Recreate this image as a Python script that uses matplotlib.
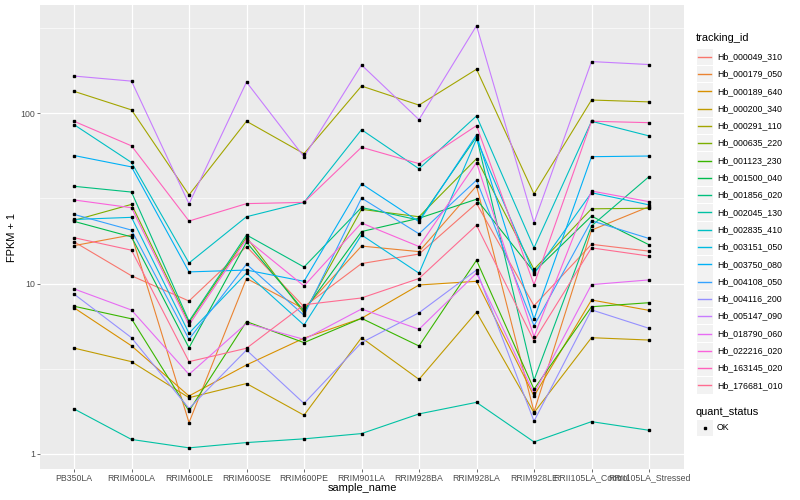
import matplotlib
matplotlib.use("Agg")
import matplotlib.pyplot as plt
from matplotlib.patches import Rectangle
from matplotlib.lines import Line2D
from matplotlib.ticker import NullLocator

# samples on the x axis
samples = ["PB350LA", "RRIM600LA", "RRIM600LE", "RRIM600SE", "RRIM600PE", "RRIM901LA",
           "RRIM928BA", "RRIM928LA", "RRIM928LE", "RRII105LA_Control", "RRII105LA_Stressed"]

tracking_ids = ["Hb_000049_310", "Hb_000179_050", "Hb_000189_640", "Hb_000200_340",
                "Hb_000291_110", "Hb_000635_220", "Hb_001123_230", "Hb_001500_040",
                "Hb_001856_020", "Hb_002045_130", "Hb_002835_410", "Hb_003151_050",
                "Hb_003750_080", "Hb_004108_050", "Hb_004116_200", "Hb_005147_090",
                "Hb_018790_060", "Hb_022216_020", "Hb_163145_020", "Hb_176681_010"]

# FPKM + 1 per sample
hb_000049_310 = [17.6, 11.1, 7.89, 16.5, 7.3, 13.1, 14.9, 29.6, 7.4, 17.0, 15.5]
hb_000179_050 = [16.7, 19.3, 1.52, 10.7, 7.1, 16.6, 15.4, 37.5, 1.76, 20.6, 28.3]
hb_000189_640 = [7.2, 4.3, 2.18, 3.32, 4.77, 6.24, 9.8, 10.3, 2.18, 8.0, 6.95]
hb_000200_340 = [4.17, 3.47, 2.13, 2.58, 1.68, 4.8, 2.73, 6.78, 1.74, 4.8, 4.65]
hb_000291_110 = [135, 105, 33.2, 90, 58, 145, 112, 182, 33.6, 120, 117]
hb_000635_220 = [23.5, 29.2, 5.9, 18.7, 6.7, 27.3, 24.7, 54.2, 12.1, 27.5, 27.7]
hb_001123_230 = [7.35, 6.2, 1.78, 5.97, 4.49, 6.24, 4.29, 13.7, 2.39, 7.3, 7.71]
hb_001500_040 = [23.2, 18.8, 4.19, 17.5, 6.9, 20.2, 24.2, 31.3, 11.7, 24.9, 16.9]
hb_001856_020 = [37.3, 34.5, 6.0, 19.3, 12.5, 28.0, 23.6, 72.8, 2.7, 21.8, 42.5]
hb_002045_130 = [1.83, 1.21, 1.08, 1.16, 1.22, 1.31, 1.71, 2.0, 1.17, 1.54, 1.37]
hb_002835_410 = [86, 51.5, 13.2, 24.7, 30, 80.3, 47.3, 96.7, 16.2, 90, 73.8]
hb_003151_050 = [23.8, 24.5, 5.1, 11.5, 5.7, 19.3, 11.5, 70.8, 11.4, 34.2, 29.0]
hb_003750_080 = [56.6, 48.5, 11.7, 12.0, 10.3, 38.6, 23.1, 74.8, 6.17, 55.7, 56.2]
hb_004108_050 = [25.5, 20.6, 4.7, 13.0, 6.5, 31.8, 19.6, 40.5, 5.64, 23.4, 18.4]
hb_004116_200 = [8.67, 4.8, 1.84, 4.06, 1.97, 4.49, 6.73, 12.0, 1.55, 7.0, 5.45]
hb_005147_090 = [166, 155, 29.4, 153, 55.6, 193, 92, 328, 22.8, 202, 194]
hb_018790_060 = [9.3, 6.98, 2.92, 5.83, 4.69, 7.08, 5.38, 11.5, 2.26, 9.85, 10.5]
hb_022216_020 = [31.0, 27.9, 5.7, 18.2, 9.67, 22.7, 16.5, 51.4, 4.87, 35.0, 30.3]
hb_163145_020 = [90, 64.5, 23.3, 29.5, 30, 63.3, 50.7, 84.8, 9.85, 90, 88.3]
hb_176681_010 = [18.6, 15.7, 3.47, 4.16, 7.5, 8.22, 10.7, 22.0, 4.6, 16.2, 14.5]

series = [hb_000049_310, hb_000179_050, hb_000189_640, hb_000200_340, hb_000291_110,
          hb_000635_220, hb_001123_230, hb_001500_040, hb_001856_020, hb_002045_130,
          hb_002835_410, hb_003151_050, hb_003750_080, hb_004108_050, hb_004116_200,
          hb_005147_090, hb_018790_060, hb_022216_020, hb_163145_020, hb_176681_010]

# ggplot default hue palette for 20 levels
colors = ["#F8766D", "#EA8331", "#D89000", "#C09B00", "#A3A500", "#7CAE00", "#39B600",
          "#00BB4E", "#00BF7D", "#00C1A3", "#00BFC4", "#00BAE0", "#00B0F6", "#35A2FF",
          "#9590FF", "#C77CFF", "#E76BF3", "#FA62DB", "#FF62BC", "#FF6C91"]

plt.rcParams['font.family'] = ['Liberation Sans', 'DejaVu Sans']

W, H = 800, 500
fig = plt.figure(figsize=(8, 5), dpi=100)
left, right, top, bottom = 39.5, 683.5, 5, 469
ax = fig.add_axes([left / W, 1 - bottom / H, (right - left) / W, (bottom - top) / H])
ax.set_facecolor("#EBEBEB")
for s in ax.spines.values():
    s.set_visible(False)

ax.set_yscale("log")
ax.set_ylim(10 ** -0.091, 10 ** 2.638)
ax.set_xlim(-0.6, len(samples) - 0.4)

# grid like theme_grey
for y in [10 ** 0.5, 10 ** 1.5, 10 ** 2.5]:
    ax.axhline(y, color="white", lw=0.45, zorder=0.5)
for y in [1, 10, 100]:
    ax.axhline(y, color="white", lw=0.9, zorder=0.6)
for i in range(len(samples)):
    ax.axvline(i, color="white", lw=0.9, zorder=0.6)

x = list(range(len(samples)))
for vals, c in zip(series, colors):
    ax.plot(x, vals, color=c, lw=0.8, zorder=2)
for vals in series:
    ax.plot(x, vals, ls="none", marker="s", ms=2.1, color="black", zorder=3)

ax.set_yticks([1, 10, 100])
ax.set_yticklabels(["1", "10", "100"])
ax.yaxis.set_minor_locator(NullLocator())
ax.set_xticks(x)
ax.set_xticklabels(samples)
ax.tick_params(axis="both", length=2, width=0.5, color="#333333", labelcolor="#4D4D4D",
               labelsize=6.3, pad=1.3)

fig.text(362 / W, 1 - 488 / H, "sample_name", ha="center", va="center", fontsize=7.9)
fig.text(12 / W, 1 - 237 / H, "FPKM + 1", ha="center", va="center", fontsize=7.9, rotation=90)

# legend drawn by hand (ggplot style)
def px(xp, yp):
    return xp / W, 1 - yp / H

fig.text(*px(696, 38), "tracking_id", ha="left", va="center", fontsize=7.9)
for i, (tid, c) in enumerate(zip(tracking_ids, colors)):
    yc = 56.7 + i * 17.3
    fig.patches.append(Rectangle(px(696.5, yc + 8.2), 16 / W, 16.4 / H, transform=fig.transFigure,
                                 facecolor="#F2F2F2", edgecolor="none", zorder=1))
    fig.lines.append(Line2D([698 / W, 711 / W], [1 - yc / H, 1 - yc / H], transform=fig.transFigure,
                            color=c, lw=1.0, zorder=2))
    fig.text(*px(717, yc), tid, ha="left", va="center", fontsize=6.3)

fig.text(*px(696, 412), "quant_status", ha="left", va="center", fontsize=7.9)
fig.patches.append(Rectangle(px(696.5, 428 + 8.2), 16 / W, 16.4 / H, transform=fig.transFigure,
                             facecolor="#F2F2F2", edgecolor="none", zorder=1))
fig.lines.append(Line2D([704.5 / W], [1 - 428 / H], transform=fig.transFigure, ls="none",
                        marker="s", ms=2.1, color="black", zorder=2))
fig.text(*px(717, 428), "OK", ha="left", va="center", fontsize=6.3)

fig.savefig("out.png", dpi=100, facecolor="white")
